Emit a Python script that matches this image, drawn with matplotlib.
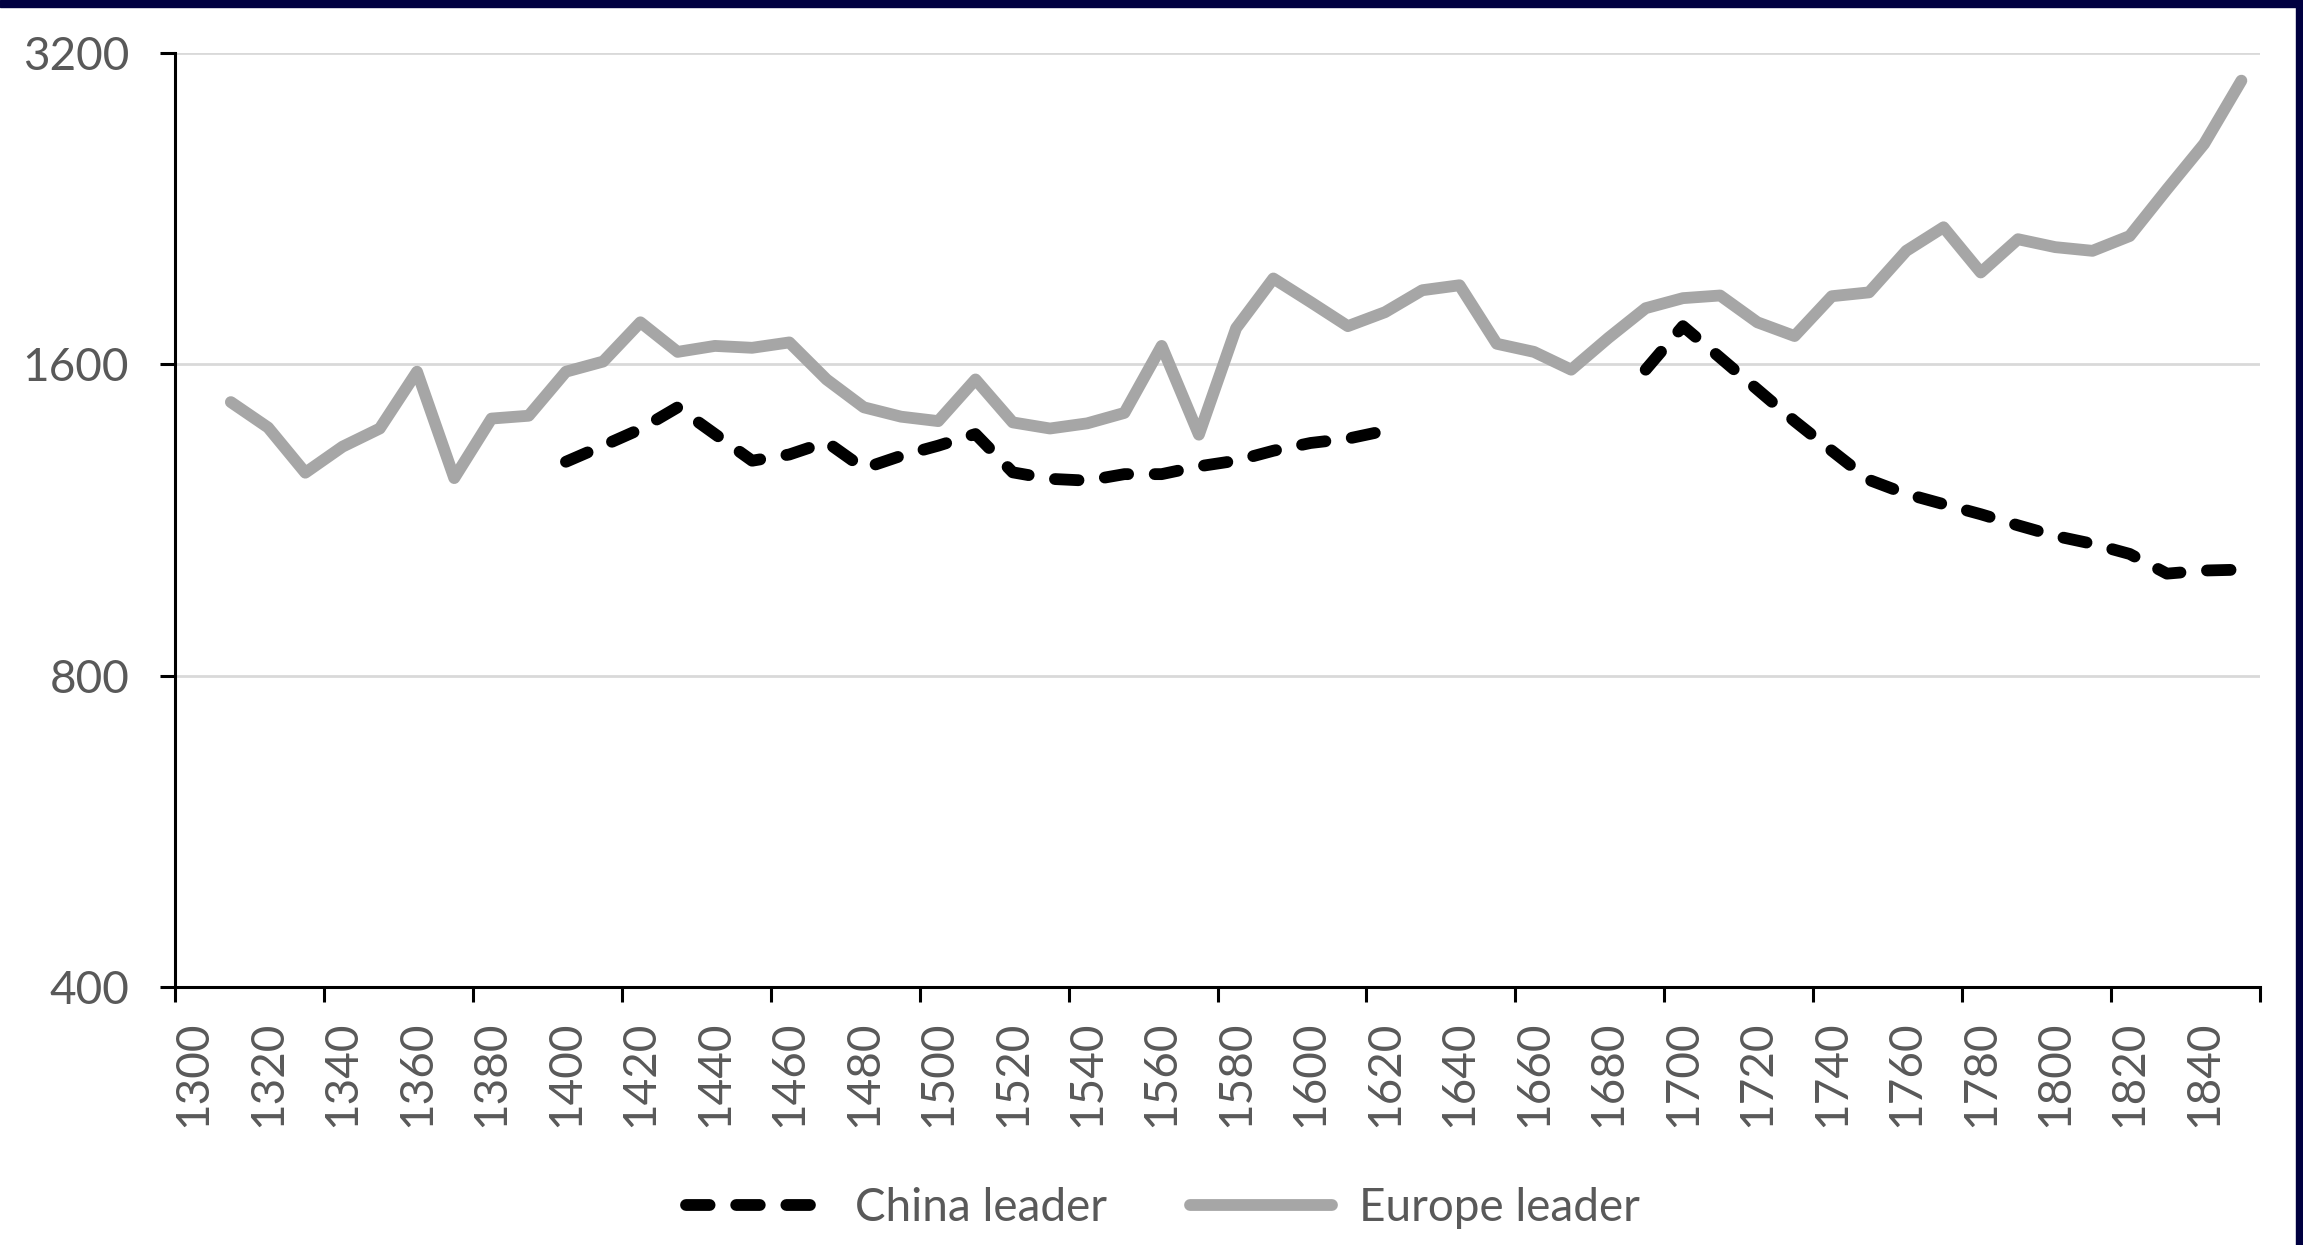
import numpy as np
import matplotlib
matplotlib.use("Agg")
import matplotlib.pyplot as plt
from matplotlib.ticker import FixedLocator, NullLocator, NullFormatter
from matplotlib.patches import Rectangle

plt.rcParams['font.family'] = ['Lato', 'DejaVu Sans']

# Data: one category per decade, 1300..1850
years = list(range(1300, 1860, 10))
europe = [None,
          1471, 1390, 1257, 1332, 1387, 1574, 1242, 1418, 1427,
          1574, 1610, 1757, 1645, 1667, 1660, 1680, 1547, 1454, 1424,
          1410, 1547, 1406, 1387, 1403, 1436, 1667, 1368, 1734, 1937,
          1838, 1742, 1797, 1887, 1908, 1675, 1645, 1581, 1697, 1813,
          1854, 1865, 1757, 1704, 1862, 1878, 2060, 2171, 1963, 2114,
          2077, 2060, 2129, 2362, 2614, 3009]
china = [None] * 10 + [
          1288, 1335, 1385, 1454, 1370, 1291, 1309, 1346, 1269, 1305,
          1335, 1370, 1258, 1240, 1235, 1253, 1253, 1275, 1291, 1320,
          1343, 1356, 1380] + [None] * 6 + [
          1581, 1742, 1624, 1513, 1410, 1320, 1237, 1199, 1172, 1146,
          1118, 1092, 1073, 1049, 1004, 1011, 1013]
y_ticks = [400, 800, 1600, 3200]
x_labels = list(range(1300, 1850, 20))

text_color = '#595959'
fs = 33

fig = plt.figure(figsize=(23.03, 12.45), dpi=100)
ax = fig.add_axes([175 / 2303, 1 - 987 / 1245, (2260 - 175) / 2303, (987 - 53) / 1245])

ax.plot(years, np.array(europe, dtype=float), color='#a6a6a6', lw=8.5,
        solid_capstyle='round', solid_joinstyle='round', label='Europe leader')
ax.plot(years, np.array(china, dtype=float), color='black', lw=8.5,
        dashes=(2.0, 2.25), dash_capstyle='round', dash_joinstyle='round',
        label='China leader')

ax.set_yscale('log', base=2)
ax.set_ylim(400, 3200)
ax.set_xlim(1295, 1855)

ax.yaxis.set_major_locator(FixedLocator(y_ticks))
ax.yaxis.set_minor_locator(NullLocator())
ax.set_yticklabels([str(v) for v in y_ticks])
ax.yaxis.set_minor_formatter(NullFormatter())

# tick marks every 4 categories, labels every 2 categories (centered)
ax.xaxis.set_major_locator(FixedLocator(list(range(1295, 1856, 40))))
ax.xaxis.set_major_formatter(NullFormatter())
ax.xaxis.set_minor_locator(FixedLocator(x_labels))
ax.set_xticklabels([str(v) for v in x_labels], minor=True, rotation=90)

ax.tick_params(axis='y', which='major', direction='out', length=11, width=2.2,
               pad=22, labelsize=fs, labelcolor=text_color)
ax.tick_params(axis='x', which='major', direction='out', length=11, width=2.2)
ax.tick_params(axis='x', which='minor', length=0, pad=24, labelsize=fs,
               labelcolor=text_color)

for s in ['top', 'right']:
    ax.spines[s].set_visible(False)
for s in ['left', 'bottom']:
    ax.spines[s].set_linewidth(2.2)
    ax.spines[s].set_color('black')

ax.grid(axis='y', which='major', color='#d9d9d9', lw=2)
ax.set_axisbelow(True)

handles, labels = ax.get_legend_handles_labels()
leg = fig.legend(handles[::-1], labels[::-1], loc='center',
                 bbox_to_anchor=(1163 / 2303, 1 - 1208 / 1245), ncol=2,
                 frameon=False, fontsize=fs, handlelength=3.1,
                 handletextpad=0.6, columnspacing=1.8)
for t in leg.get_texts():
    t.set_color(text_color)

# dark frame edges from the screenshot
fig.add_artist(Rectangle((0, 1 - 7 / 1245), 1, 7 / 1245, transform=fig.transFigure,
                         color='#000040', zorder=10))
fig.add_artist(Rectangle((1 - 7 / 2303, 0), 7 / 2303, 1, transform=fig.transFigure,
                         color='#000040', zorder=10))

fig.savefig('out.png', dpi=100)
